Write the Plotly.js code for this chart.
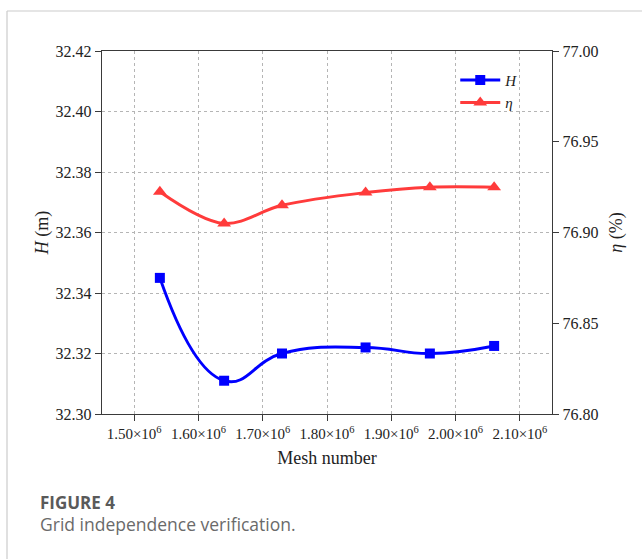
<!DOCTYPE html>
<html>
<head>
<meta charset="utf-8">
<script src="https://cdn.plot.ly/plotly-3.0.1.min.js"></script>
<style>
  html, body { margin: 0; padding: 0; background: #ffffff; }
  #chart { width: 642px; height: 559px; }
</style>
</head>
<body>
<div id="chart"></div>
<script>
// ---- data ----
const meshNumber = [1.54e6, 1.64e6, 1.73e6, 1.86e6, 1.96e6, 2.06e6];
const headH = [32.345, 32.311, 32.320, 32.322, 32.320, 32.3225];
const effEta = [76.9225, 76.905, 76.915, 76.922, 76.925, 76.925];

const xTickVals = [1.5e6, 1.6e6, 1.7e6, 1.8e6, 1.9e6, 2.0e6, 2.1e6];
const xTickText = ["1.50×10<sup>6</sup>", "1.60×10<sup>6</sup>", "1.70×10<sup>6</sup>",
                   "1.80×10<sup>6</sup>", "1.90×10<sup>6</sup>", "2.00×10<sup>6</sup>",
                   "2.10×10<sup>6</sup>"];
const hTickVals = [32.30, 32.32, 32.34, 32.36, 32.38, 32.40, 32.42];
const hTickText = ["32.30", "32.32", "32.34", "32.36", "32.38", "32.40", "32.42"];
const hMinorVals = [32.31, 32.33, 32.35, 32.37, 32.39, 32.41];
const etaTickVals = [76.80, 76.85, 76.90, 76.95, 77.00];
const etaTickText = ["76.80", "76.85", "76.90", "76.95", "77.00"];
const etaMinorVals = [76.825, 76.875, 76.925, 76.975];

const serif = "Liberation Serif";
const sans = "Open Sans";
const axisColor = "#3a3a3a";
const textColor = "#222222";

const traces = [
  {
    x: meshNumber, y: headH, name: "<i>H</i>", type: "scatter", mode: "lines+markers",
    line: {color: "#0000ff", width: 3, shape: "spline", smoothing: 1.3},
    marker: {symbol: "square", size: 10, color: "#0000ff"},
    xaxis: "x", yaxis: "y"
  },
  {
    x: meshNumber, y: effEta, name: "<i>η</i>", type: "scatter", mode: "lines+markers",
    line: {color: "#ff3b3b", width: 3, shape: "spline", smoothing: 1},
    marker: {symbol: "triangle-up", size: 12, color: "#ff3b3b"},
    xaxis: "x", yaxis: "y2"
  }
];

const layout = {
  width: 642, height: 559,
  margin: {l: 102, r: 90, t: 51, b: 145},
  paper_bgcolor: "#ffffff", plot_bgcolor: "#ffffff",
  font: {family: serif, size: 15, color: textColor},
  showlegend: true,
  legend: {
    x: 0.785, y: 0.965, xanchor: "left", yanchor: "top",
    bgcolor: "rgba(255,255,255,0)", borderwidth: 0,
    font: {family: serif, size: 15, color: textColor},
    itemwidth: 40, tracegroupgap: 0
  },
  xaxis: {
    range: [1.45e6, 2.15e6],
    tickmode: "array", tickvals: xTickVals, ticktext: xTickText,
    ticks: "outside", ticklen: 6, tickcolor: axisColor, tickwidth: 1,
    showline: true, linecolor: axisColor, linewidth: 1.3, mirror: true,
    showgrid: true, gridcolor: "#b5b5b5", griddash: "dot", gridwidth: 1,
    zeroline: false,
    tickfont: {family: serif, size: 15, color: textColor},
    title: {text: "Mesh number", font: {family: serif, size: 18, color: textColor}, standoff: 10}
  },
  yaxis: {
    range: [32.30, 32.42],
    tickmode: "array", tickvals: hTickVals, ticktext: hTickText,
    ticks: "outside", ticklen: 6, tickcolor: axisColor, tickwidth: 1,
    showline: true, linecolor: axisColor, linewidth: 1.3,
    showgrid: true, gridcolor: "#b5b5b5", griddash: "dot", gridwidth: 1,
    zeroline: false,
    tickfont: {family: serif, size: 16, color: textColor},
    title: {text: "<i>H</i> (m)", font: {family: serif, size: 18, color: textColor}, standoff: 2}
  },
  yaxis2: {
    overlaying: "y", side: "right", anchor: "x",
    range: [76.80, 77.00],
    tickmode: "array", tickvals: etaTickVals, ticktext: etaTickText,
    ticks: "outside", ticklen: 6, tickcolor: axisColor, tickwidth: 1,
    showline: true, linecolor: axisColor, linewidth: 1.3,
    showgrid: false, zeroline: false,
    tickfont: {family: serif, size: 16, color: textColor},
    title: {text: "<i>η</i> (%)", font: {family: serif, size: 18, color: textColor}, standoff: 12}
  },
  yaxis3: {
    overlaying: "y", side: "left", anchor: "x",
    range: [32.30, 32.42],
    tickmode: "array", tickvals: hMinorVals, showticklabels: false,
    ticks: "outside", ticklen: 3, tickcolor: axisColor, tickwidth: 1,
    showline: false, showgrid: false, zeroline: false
  },
  yaxis4: {
    overlaying: "y", side: "right", anchor: "x",
    range: [76.80, 77.00],
    tickmode: "array", tickvals: etaMinorVals, showticklabels: false,
    ticks: "outside", ticklen: 3, tickcolor: axisColor, tickwidth: 1,
    showline: false, showgrid: false, zeroline: false
  },
  shapes: [
    {type: "line", xref: "paper", yref: "paper",
     x0: (7 - 102) / 450, x1: (642 - 102) / 450, y0: (414 - 11) / 363, y1: (414 - 11) / 363,
     line: {color: "#cccccc", width: 1.2}},
    {type: "line", xref: "paper", yref: "paper",
     x0: (7 - 102) / 450, x1: (7 - 102) / 450, y0: (414 - 11) / 363, y1: (414 - 570) / 363,
     line: {color: "#cccccc", width: 1.2}}
  ],
  annotations: [
    {text: "<b>FIGURE 4</b>", xref: "paper", yref: "paper",
     x: (38 - 102) / 450, y: (414 - 502) / 363, xanchor: "left", yanchor: "middle",
     showarrow: false, font: {family: sans, size: 17, color: "#5a5a5a"}},
    {text: "Grid independence verification.", xref: "paper", yref: "paper",
     x: (38 - 102) / 450, y: (414 - 524) / 363, xanchor: "left", yanchor: "middle",
     showarrow: false, font: {family: sans, size: 17.5, color: "#6a6a6a"}}
  ]
};

Plotly.newPlot("chart", traces, layout, {displayModeBar: false, staticPlot: true});
</script>
</body>
</html>
